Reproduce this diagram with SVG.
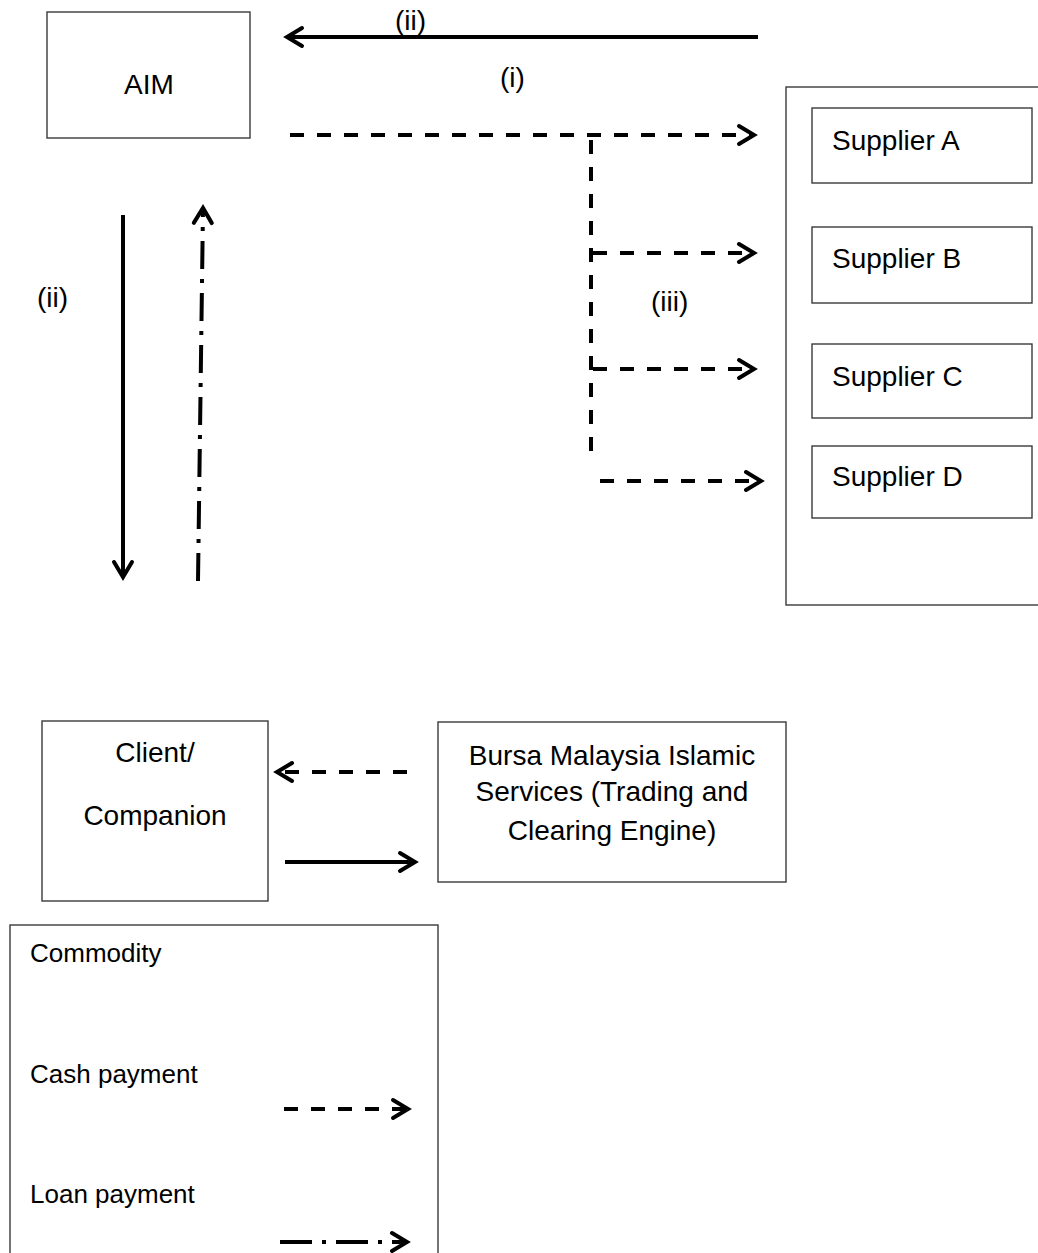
<svg xmlns="http://www.w3.org/2000/svg" width="1038" height="1253" viewBox="0 0 1038 1253">
<style>
.box{fill:#fff;stroke:#3a3a3a;stroke-width:1.4}
.t{font-family:"Liberation Sans",Arial,sans-serif;font-size:28px;fill:#000}
.lg{font-size:26px}
.c{text-anchor:middle}
.ln{fill:none;stroke:#000;stroke-width:4}
.dash{stroke-dasharray:14 13}
.dd{stroke-dasharray:28 10 4 10}
</style>
<defs>
<marker id="ah" markerUnits="userSpaceOnUse" viewBox="-20 -12 24 24" markerWidth="24" markerHeight="24" refX="0" refY="0" orient="auto">
<path d="M-15,-9 L0,0 L-15,9" fill="none" stroke="#000" stroke-width="4" stroke-linecap="round" stroke-linejoin="miter" stroke-dasharray="none"/>
</marker>
</defs>
<rect width="1038" height="1253" fill="#fff"/>

<g id="aim"><rect class="box" x="47" y="12" width="203" height="126"/><text class="t c" x="149" y="94">AIM</text></g>

<g id="supplier-group"><rect class="box" x="786" y="87" width="260" height="518"/></g>
<g id="supplier-a"><rect class="box" x="812" y="108" width="220" height="75"/><text class="t" x="832" y="150">Supplier A</text></g>
<g id="supplier-b"><rect class="box" x="812" y="227" width="220" height="76"/><text class="t" x="832" y="268">Supplier B</text></g>
<g id="supplier-c"><rect class="box" x="812" y="344" width="220" height="74"/><text class="t" x="832" y="386">Supplier C</text></g>
<g id="supplier-d"><rect class="box" x="812" y="446" width="220" height="72"/><text class="t" x="832" y="486">Supplier D</text></g>

<g id="client"><rect class="box" x="42" y="721" width="226" height="180"/><text class="t c" x="155" y="762">Client/</text><text class="t c" x="155" y="825">Companion</text></g>
<g id="bursa"><rect class="box" x="438" y="722" width="348" height="160"/><text class="t c" x="612" y="765">Bursa Malaysia Islamic</text><text class="t c" x="612" y="801">Services (Trading and</text><text class="t c" x="612" y="840">Clearing Engine)</text></g>

<g id="legend"><rect class="box" x="10" y="925" width="428" height="340"/>
<text class="t lg" x="30" y="962">Commodity</text>
<text class="t lg" x="30" y="1083">Cash payment</text>
<text class="t lg" x="30" y="1203">Loan payment</text>
<line class="ln dash" x1="284" y1="1109" x2="408" y2="1109" marker-end="url(#ah)"/>
<line class="ln" x1="280" y1="1242" x2="407" y2="1242" stroke-dasharray="32 10 4 10" marker-end="url(#ah)"/>
</g>

<g id="connectors">
<line class="ln" x1="758" y1="37" x2="287" y2="37" marker-end="url(#ah)"/>
<line class="ln dash" x1="290" y1="135" x2="754" y2="135" marker-end="url(#ah)"/>
<line class="ln dash" x1="591" y1="140" x2="591" y2="460"/>
<line class="ln dash" x1="593" y1="253" x2="754" y2="253" marker-end="url(#ah)"/>
<line class="ln dash" x1="593" y1="369" x2="754" y2="369" marker-end="url(#ah)"/>
<line class="ln dash" x1="600" y1="481" x2="761" y2="481" marker-end="url(#ah)"/>
<line class="ln" x1="123" y1="215" x2="123" y2="577" marker-end="url(#ah)"/>
<line class="ln dd" x1="198" y1="581" x2="203" y2="208" marker-end="url(#ah)"/>
<line class="ln dash" x1="407" y1="772" x2="277" y2="772" marker-end="url(#ah)"/>
<line class="ln" x1="285" y1="862" x2="415" y2="862" marker-end="url(#ah)"/>
</g>

<g id="labels">
<text class="t" x="395" y="30">(ii)</text>
<text class="t" x="500" y="87">(i)</text>
<text class="t" x="37" y="307">(ii)</text>
<text class="t" x="651" y="311">(iii)</text>
</g>
</svg>
